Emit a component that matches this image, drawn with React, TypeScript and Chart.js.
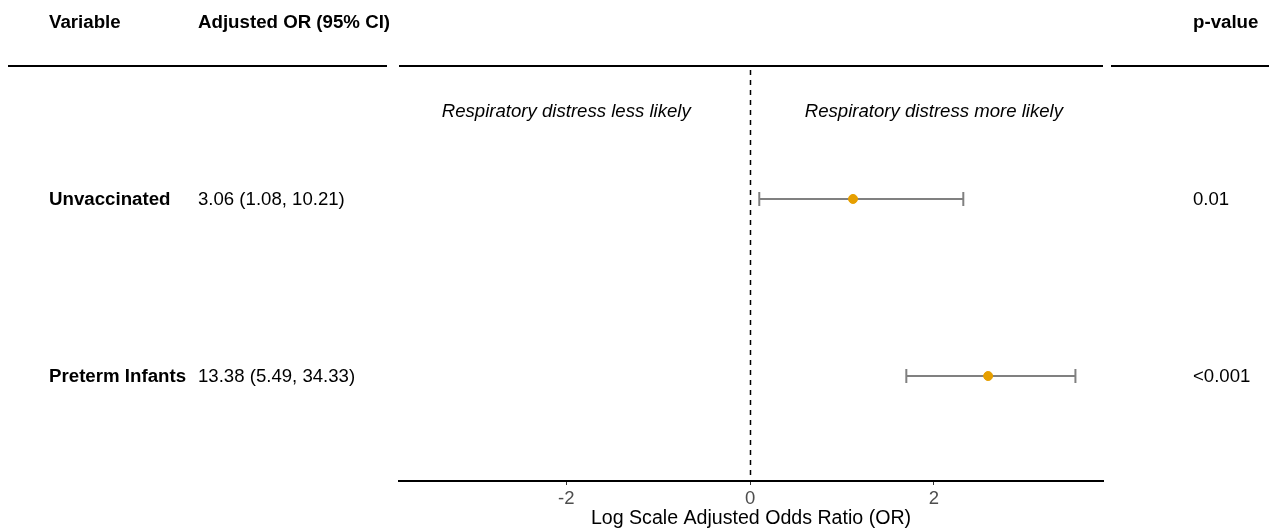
import React, { useEffect, useRef } from "react";
import { Chart, registerables } from "chart.js";

Chart.register(...registerables);

// ---- data ----
const variables = ["Unvaccinated", "Preterm Infants"];
const orLabels = ["3.06 (1.08, 10.21)", "13.38 (5.49, 34.33)"];
const pValues = ["0.01", "<0.001"];
const rowPositions = [2, 1];
const logOR = [1.12, 2.59];
const logLow = [0.1, 1.7];
const logHigh = [2.32, 3.54];
const xTickValues = [-2, 0, 2];
const annotations = ["Respiratory distress less likely", "Respiratory distress more likely"];
const annotationX = [-2, 2];
const annotationY = 2.49;
const headers = ["Variable", "Adjusted OR (95% CI)", "p-value"];
const xTitle = "Log Scale Adjusted Odds Ratio (OR)";

const FONT = '"Liberation Sans", Arial, Helvetica, sans-serif';

const forestPlugin = {
  id: "forest",
  beforeDatasetsDraw(chart: any) {
    const { ctx, scales, chartArea } = chart;
    const xs = scales.x;
    const ys = scales.y;
    ctx.save();
    // reference line at 0
    ctx.strokeStyle = "#000";
    ctx.lineWidth = 1.5;
    ctx.setLineDash([5, 5]);
    ctx.lineDashOffset = -4;
    const x0 = Math.round(xs.getPixelForValue(0)) + 0.5;
    ctx.beginPath();
    ctx.moveTo(x0, chartArea.top);
    ctx.lineTo(x0, chartArea.bottom);
    ctx.stroke();
    ctx.setLineDash([]);
    // error bars
    ctx.strokeStyle = "#808080";
    ctx.lineWidth = 2;
    for (let i = 0; i < rowPositions.length; i++) {
      const y = ys.getPixelForValue(rowPositions[i]);
      const xl = xs.getPixelForValue(logLow[i]);
      const xh = xs.getPixelForValue(logHigh[i]);
      ctx.beginPath();
      ctx.moveTo(xl, y);
      ctx.lineTo(xh, y);
      ctx.moveTo(xl, y - 7);
      ctx.lineTo(xl, y + 7);
      ctx.moveTo(xh, y - 7);
      ctx.lineTo(xh, y + 7);
      ctx.stroke();
    }
    // annotations
    ctx.fillStyle = "#000";
    ctx.font = `italic 18.6px ${FONT}`;
    ctx.textAlign = "center";
    ctx.textBaseline = "middle";
    for (let i = 0; i < annotations.length; i++) {
      ctx.fillText(annotations[i], xs.getPixelForValue(annotationX[i]), ys.getPixelForValue(annotationY));
    }
    ctx.restore();
  },
  afterDraw(chart: any) {
    const { ctx, scales, chartArea } = chart;
    const xs = scales.x;
    const ys = scales.y;
    ctx.save();
    // header lines
    ctx.strokeStyle = "#000";
    ctx.lineWidth = 2;
    const ly = chartArea.top;
    ctx.beginPath();
    ctx.moveTo(8, ly);
    ctx.lineTo(387, ly);
    ctx.moveTo(chartArea.left, ly);
    ctx.lineTo(chartArea.right, ly);
    ctx.moveTo(1111, ly);
    ctx.lineTo(1269, ly);
    ctx.stroke();
    // headers
    ctx.fillStyle = "#000";
    ctx.textBaseline = "middle";
    ctx.textAlign = "left";
    ctx.font = `bold 18.7px ${FONT}`;
    ctx.fillText(headers[0], 49, 22.5);
    ctx.fillText(headers[1], 198, 22.5);
    ctx.fillText(headers[2], 1193, 22.5);
    // rows
    for (let i = 0; i < rowPositions.length; i++) {
      const y = ys.getPixelForValue(rowPositions[i]) + 0.5;
      ctx.font = `bold 18.7px ${FONT}`;
      ctx.fillText(variables[i], 49, y);
      ctx.font = `18.6px ${FONT}`;
      ctx.fillText(orLabels[i], 198, y);
      ctx.fillText(pValues[i], 1193, y);
    }
    // x-axis title
    ctx.textAlign = "center";
    ctx.font = `19.6px ${FONT}`;
    ctx.fillText(xTitle, (xs.left + xs.right) / 2, chartArea.bottom + 37.5);
    ctx.restore();
  },
};

export default function App() {
  const ref = useRef<HTMLCanvasElement>(null);
  useEffect(() => {
    if (!ref.current) return;
    const chart = new Chart(ref.current, {
      type: "scatter",
      data: {
        datasets: [
          {
            data: logOR.map((v, i) => ({ x: v, y: rowPositions[i] })),
            backgroundColor: "#E69F00",
            borderColor: "#E69F00",
            pointRadius: 4.5,
            pointHoverRadius: 4.5,
          },
        ],
      },
      options: {
        animation: false,
        responsive: false,
        events: [],
        layout: { padding: { left: 399, right: 166, top: 66, bottom: 14.5 } },
        plugins: { legend: { display: false }, tooltip: { enabled: false } },
        scales: {
          x: {
            type: "linear",
            min: -3.82,
            max: 3.84,
            afterBuildTicks: (axis: any) => {
              axis.ticks = xTickValues.map((v) => ({ value: v }));
            },
            border: { display: true, color: "#000", width: 2 },
            grid: { display: true, drawOnChartArea: false, drawTicks: true, tickLength: 4, color: "#333" },
            ticks: { color: "#4d4d4d", font: { family: FONT, size: 18.5, lineHeight: 1.0 }, padding: 5 },
            title: { display: false },
          },
          y: {
            type: "linear",
            min: 0.407,
            max: 2.751,
            display: false,
          },
        },
      },
      plugins: [forestPlugin],
    });
    return () => chart.destroy();
  }, []);
  return (
    <div style={{ position: "fixed", left: 0, top: 0, width: 1269, height: 528, background: "#fff" }}>
      <canvas ref={ref} width={1269} height={528} style={{ display: "block" }} />
    </div>
  );
}
